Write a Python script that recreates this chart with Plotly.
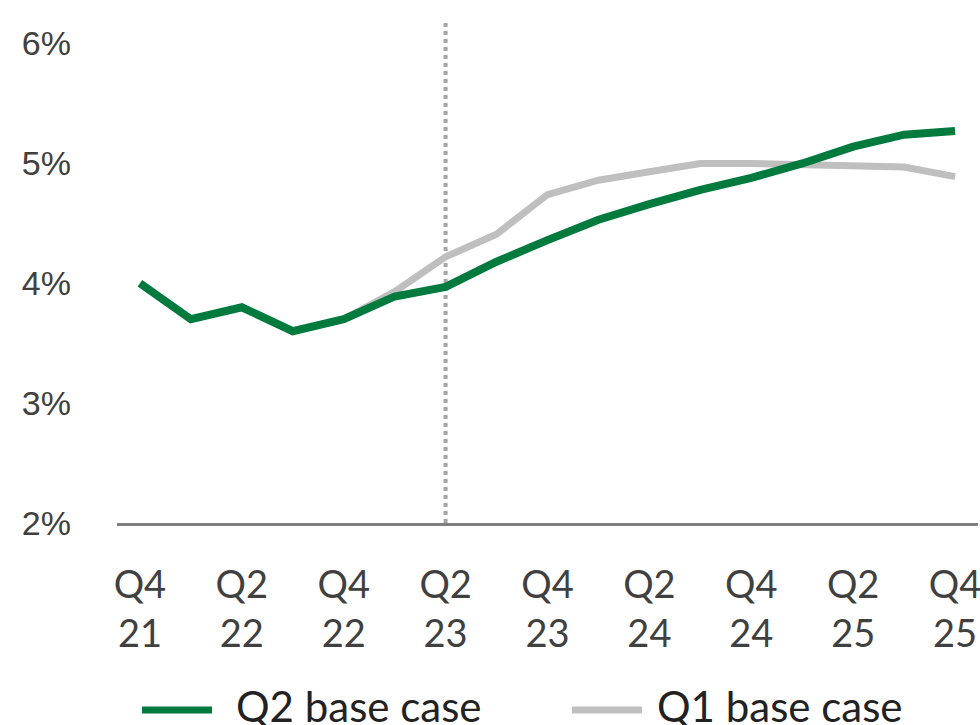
import plotly.graph_objects as go

quarters = ["Q4 21", "Q1 22", "Q2 22", "Q3 22", "Q4 22", "Q1 23", "Q2 23", "Q3 23", "Q4 23",
            "Q1 24", "Q2 24", "Q3 24", "Q4 24", "Q1 25", "Q2 25", "Q3 25", "Q4 25"]
q2_base = [4.00, 3.70, 3.80, 3.60, 3.70, 3.89, 3.97, 4.18, 4.36,
           4.53, 4.66, 4.78, 4.88, 5.00, 5.14, 5.24, 5.27]
q1_base = [None, None, None, None, 3.70, 3.93, 4.22, 4.41, 4.74,
           4.86, 4.93, 5.00, 5.00, 4.99, 4.98, 4.97, 4.89]
tick_quarters = ["Q4 21", "Q2 22", "Q4 22", "Q2 23", "Q4 23", "Q2 24", "Q4 24", "Q2 25", "Q4 25"]
tick_text = ["Q4<br>21", "Q2<br>22", "Q4<br>22", "Q2<br>23", "Q4<br>23", "Q2<br>24", "Q4<br>24", "Q2<br>25", "Q4<br>25"]
y_ticks = [2, 3, 4, 5, 6]
y_tick_text = ["2%", "3%", "4%", "5%", "6%"]
marker_quarter = "Q2 23"
legend_names = ["Q2 base case", "Q1 base case"]

GREEN = "#007A3D"
GRAY = "#BFBFBF"
TEXT = "#404040"
XFONT = "Lato"

W, H = 980, 725
# screen-pixel plot box: left 117, right 978, top 22, bottom 523
ML, MT = 117, 22
MR = W - 978
MB = H - 523
PW, PH = W - ML - MR, H - MT - MB


def px_x(px):
    return (px - ML) / PW


def px_y(py):
    return (H - MB - py) / PH


fig = go.Figure()
fig.add_trace(go.Scatter(x=quarters, y=q1_base, mode="lines", name=legend_names[1],
                         line=dict(color=GRAY, width=7), connectgaps=False))
fig.add_trace(go.Scatter(x=quarters, y=q2_base, mode="lines", name=legend_names[0],
                         line=dict(color=GREEN, width=8)))

fig.add_shape(type="line", xref="x", yref="paper", x0=marker_quarter, x1=marker_quarter,
              y0=0, y1=1, line=dict(color="#A6A6A6", width=4, dash="dot"), layer="below")

# legend (drawn manually so it does not push the plot area)
legend_items = [(142, 212, 234, GREEN, legend_names[0]), (572, 642, 655, GRAY, legend_names[1])]
for x0, x1, tx, col, name in legend_items:
    fig.add_shape(type="line", xref="paper", yref="paper", x0=px_x(x0), x1=px_x(x1),
                  y0=px_y(710), y1=px_y(710), line=dict(color=col, width=7))
    fig.add_annotation(xref="paper", yref="paper", x=px_x(tx), y=px_y(706), text=name,
                       showarrow=False, xanchor="left", yanchor="middle",
                       font=dict(family=XFONT, size=42, color="#222222"))

fig.update_layout(
    width=W, height=H,
    margin=dict(l=ML, r=MR, t=MT, b=MB, autoexpand=False),
    plot_bgcolor="white", paper_bgcolor="white",
    showlegend=False,
    xaxis=dict(type="category", categoryorder="array", categoryarray=quarters,
               range=[-0.45, 16.45], tickmode="array", tickvals=tick_quarters, ticktext=tick_text,
               showgrid=False, zeroline=False, showline=True, linecolor="#808080", linewidth=3,
               ticks="", ticklabelstandoff=26, automargin=False,
               tickfont=dict(family=XFONT, size=38, color=TEXT)),
    yaxis=dict(range=[2, 6.18], tickmode="array", tickvals=y_ticks, ticktext=y_tick_text,
               showgrid=False, zeroline=False, showline=False, ticks="",
               ticklabelstandoff=45, automargin=False,
               tickfont=dict(family="Liberation Sans", size=34, color=TEXT)),
)

fig.write_html("out.html", config={"displayModeBar": False},
               post_script="document.body.style.margin='0';document.body.style.overflow='hidden';")
